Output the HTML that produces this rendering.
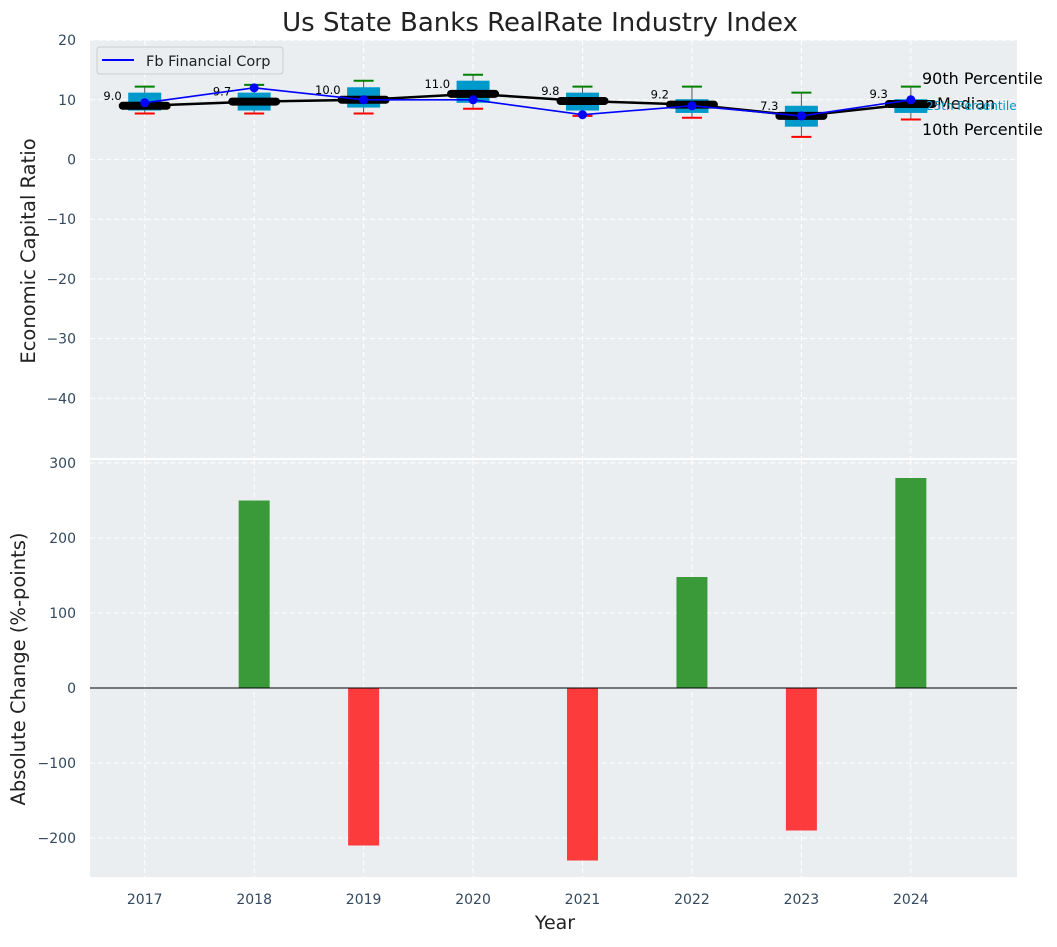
<!DOCTYPE html>
<html><head><meta charset="utf-8"><style>
body{margin:0;background:#fff;font-family:"Liberation Sans","DejaVu Sans",sans-serif}
svg text{font-family:"DejaVu Sans","Liberation Sans",sans-serif}
</style></head><body>
<svg id="c" width="1057" height="942" xmlns="http://www.w3.org/2000/svg"></svg>
<script>
const years=['2017','2018','2019','2020','2021','2022','2023','2024'];
const company=[9.5,12.0,10.0,10.0,7.5,9.0,7.3,10.0];
const median=[9.0,9.7,10.0,11.0,9.8,9.2,7.3,9.3];
const q1=[8.2,8.2,8.7,9.5,8.2,7.8,5.5,7.8];
const q3=[11.2,11.2,12.1,13.2,11.2,10.1,9.0,10.1];
const p10=[7.7,7.7,7.7,8.5,7.3,7.0,3.8,6.7];
const p90=[12.2,12.5,13.2,14.2,12.2,12.2,11.2,12.2];
const change=[0,250,-210,0,-230,148,-190,280];
const topTicks=[20,10,0,-10,-20,-30,-40];
const botTicks=[300,200,100,0,-100,-200];

const NS='http://www.w3.org/2000/svg';
const svg=document.getElementById('c');
function el(tag,attrs,parent){const e=document.createElementNS(NS,tag);for(const k in attrs)e.setAttribute(k,attrs[k]);(parent||svg).appendChild(e);return e;}
const L=90,R=1017;
const x=i=>L+(i+0.5)*(R-L)/8.47;
const T1=40,B1=458,yTop=v=>159.5-(v)*5.97;
const T2=460,B2=877,yBot=v=>688-v*0.75;

let bg=el('rect',{x:L,y:T1,width:R-L,height:B1-T1,fill:'#eaeef0'});

bg=el('rect',{x:L,y:T2,width:R-L,height:B2-T2,fill:'#eaeef0'});


years.forEach((y,i)=>{
  el('line',{x1:x(i),x2:x(i),y1:T1,y2:B1,stroke:'#fff','stroke-dasharray':'5,3','stroke-width':1});
  el('line',{x1:x(i),x2:x(i),y1:T2,y2:B2,stroke:'#fff','stroke-dasharray':'5,3','stroke-width':1});
  const t=el('text',{x:x(i),y:904,'text-anchor':'middle','font-size':14,fill:'#34495e'});t.textContent=y;
  
});
topTicks.forEach(v=>{
  el('line',{x1:L,x2:R,y1:yTop(v),y2:yTop(v),stroke:'#fff','stroke-dasharray':'5,3'});
  const t=el('text',{x:76,y:yTop(v)+5,'text-anchor':'end','font-size':14,fill:'#34495e'});t.textContent=v<0?'\u2212'+(-v):v;
  
});
botTicks.forEach(v=>{
  el('line',{x1:L,x2:R,y1:yBot(v),y2:yBot(v),stroke:'#fff','stroke-dasharray':'5,3'});
  const t=el('text',{x:76,y:yBot(v)+5,'text-anchor':'end','font-size':14,fill:'#34495e'});t.textContent=v<0?'\u2212'+(-v):v;
  
});

const bw=33;
years.forEach((y,i)=>{
  const cx=x(i);
  el('line',{x1:cx,x2:cx,y1:yTop(p90[i]),y2:yTop(p10[i]),stroke:'#555','stroke-width':1});
  const b=el('rect',{x:cx-bw/2,y:yTop(q3[i]),width:bw,height:yTop(q1[i])-yTop(q3[i]),fill:'#0099cc'});
  
  el('line',{x1:cx-10,x2:cx+10,y1:yTop(p90[i]),y2:yTop(p90[i]),stroke:'green','stroke-width':2});
  el('line',{x1:cx-10,x2:cx+10,y1:yTop(p10[i]),y2:yTop(p10[i]),stroke:'red','stroke-width':2});
});
let mp=el('polyline',{points:median.map((v,i)=>x(i)+','+yTop(v)).join(' '),fill:'none',stroke:'#000','stroke-width':2.5});

median.forEach((v,i)=>{
  el('line',{x1:x(i)-22,x2:x(i)+22,y1:yTop(v),y2:yTop(v),stroke:'#000','stroke-width':8,'stroke-linecap':'round'});
  const t=el('text',{x:x(i)-23,y:yTop(v)-6,'text-anchor':'end','font-size':11.5,fill:'#000'});t.textContent=v.toFixed(1);
  
});
let cp=el('polyline',{points:company.map((v,i)=>x(i)+','+yTop(v)).join(' '),fill:'none',stroke:'blue','stroke-width':1.6});

company.forEach((v,i)=>{const c=el('circle',{cx:x(i),cy:yTop(v),r:4.5,fill:'blue'});
  });

[['90th Percentile',84,16,'#000'],['Median',109,16,'#000'],['25th Percentile',110,12,'#0099cc'],['10th Percentile',135,16,'#000']].forEach(a=>{
  const t=el('text',{x:a[0]=='Median'?937:(a[0][0]=='2'?926:922),y:a[1],'font-size':a[2],fill:a[3]});t.textContent=a[0];
  
});

const lg=el('g',{});
el('rect',{x:97,y:47,width:186,height:27,rx:3,fill:'#eaeef0',stroke:'#ccc'},lg);
el('line',{x1:102,x2:134,y1:60,y2:60,stroke:'blue','stroke-width':2},lg);
const lt=el('text',{x:146,y:66,'font-size':14.5,fill:'#222'},lg);lt.textContent='Fb Financial Corp';

const barW=31;
change.forEach((v,i)=>{
  if(v===0)return;
  const r=el('rect',{x:x(i)-barW/2,y:Math.min(yBot(v),yBot(0)),width:barW,height:Math.abs(yBot(v)-yBot(0)),fill:v>0?'#3a9a3a':'#fc3c3c'});
  
});
el('line',{x1:L,x2:R,y1:yBot(0),y2:yBot(0),stroke:'#000','stroke-width':1});

let t=el('text',{x:540,y:31,'text-anchor':'middle','font-size':26,fill:'#222'});t.textContent='Us State Banks RealRate Industry Index';

t=el('text',{x:0,y:0,'text-anchor':'middle','font-size':19.5,fill:'#222',transform:'translate(35,251) rotate(-90)'});t.textContent='Economic Capital Ratio';

t=el('text',{x:0,y:0,'text-anchor':'middle','font-size':19.5,fill:'#222',transform:'translate(25,669) rotate(-90)'});t.textContent='Absolute Change (%-points)';

t=el('text',{x:555,y:929,'text-anchor':'middle','font-size':19,fill:'#222'});t.textContent='Year';

</script>
</body></html>
